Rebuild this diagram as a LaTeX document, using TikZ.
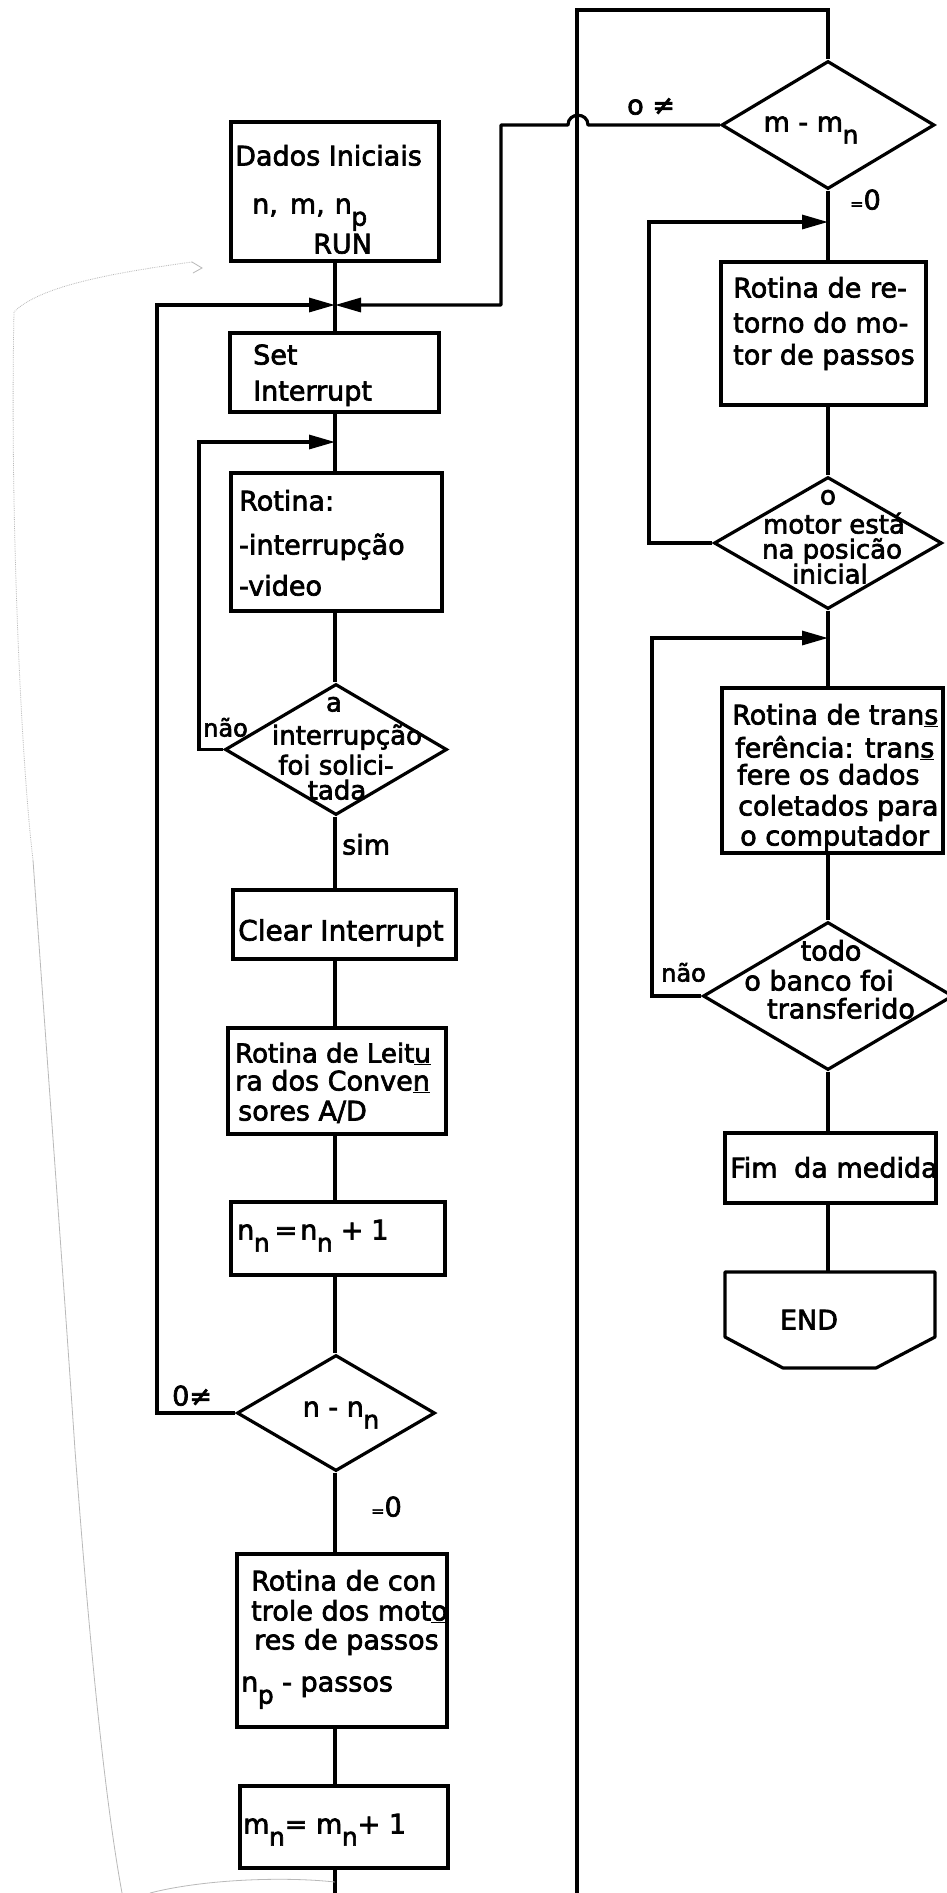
\documentclass[tikz,border=0pt]{standalone}
\usepackage{fontspec}
\setmainfont{DejaVu Sans}[FakeBold=2.5]
\usetikzlibrary{arrows.meta,shapes.geometric}
\newcommand{\lsub}[1]{\kern-0.5pt\raisebox{-0.45em}{\fontsize{25}{25}\selectfont #1}}
\begin{document}
\begin{tikzpicture}[x=1pt,y=-1pt,
  ln/.style={line width=3.2pt},
  arr/.style={line width=3.2pt,-{Triangle[length=26pt,width=14pt]}},
  box/.style={draw,line width=3.2pt,rectangle,inner sep=0pt},
  dia/.style={draw,line width=3.2pt,diamond,inner sep=0pt},
  txt/.style={font=\fontsize{27}{32}\selectfont,inner sep=0pt,anchor=west,text height=20pt,text depth=7pt},
  ctxt/.style={txt,anchor=center},
  pencil/.style={gray!55,line width=0.8pt}]
\useasboundingbox (0,0) rectangle (947,1893);
\fill[white] (0,0) rectangle (947,1893);
\coordinate (cx) at (335,0);
\coordinate (rx) at (828,0);
% ---------- left column ----------
\node[box,minimum width=208pt,minimum height=139pt] (dados) at (335,191.5) {};
\node[box,minimum width=209pt,minimum height=79pt] (setint) at (334.5,372.5) {};
\node[box,minimum width=211pt,minimum height=138pt] (rot1) at (336.5,542) {};
\node[dia,minimum width=222pt,minimum height=131pt] (dec1) at (336,749.5) {};
\node[box,minimum width=223pt,minimum height=69pt] (clear) at (344.5,924.5) {};
\node[box,minimum width=218pt,minimum height=106pt] (leit) at (337,1081) {};
\node[box,minimum width=214pt,minimum height=73pt] (nn) at (338,1238.5) {};
\node[dia,minimum width=198pt,minimum height=116pt] (dec2) at (336,1413) {};
\node[box,minimum width=210pt,minimum height=173pt] (ctrl) at (342,1640.5) {};
\node[box,minimum width=208pt,minimum height=82pt] (mn) at (344,1827) {};
% ---------- right column ----------
\node[dia,minimum width=213pt,minimum height=128pt] (dec3) at (828,125) {};
\node[box,minimum width=205pt,minimum height=143pt] (ret) at (823.5,333.5) {};
\node[dia,minimum width=228pt,minimum height=132pt] (dec4) at (828,543) {};
\node[box,minimum width=221pt,minimum height=165pt] (trf) at (832.5,770.5) {};
\node[dia,minimum width=250pt,minimum height=148pt] (dec5) at (828,996) {};
\node[box,minimum width=211pt,minimum height=70pt] (fim) at (830.5,1168) {};
\coordinate (endtop) at (828,1272);
\draw[ln,line join=round] (725,1272) -- (935,1272) -- (935,1337) -- (876,1368) -- (783,1368) -- (725,1337) -- cycle;
% ---------- texts ----------
\node[txt] (tdados1) at (235,159) {Dados Iniciais};
\node[txt] (tdados2) at (252,207) {n,\hspace{12pt}m,\hspace{10pt}n\lsub{p}};
\node[txt] (tdados3) at (313,247) {RUN};
\node[txt] (tset1) at (253,358) {Set};
\node[txt] (tset2) at (253,394) {Interrupt};
\node[txt] (trot1) at (239,504) {Rotina:};
\node[txt] (trot2) at (239,548) {-interrupção};
\node[txt] (trot3) at (239,589) {-video};
\node[ctxt,font=\fontsize{26}{30}\selectfont] (td11) at (334,705) {a};
\node[ctxt,font=\fontsize{26}{30}\selectfont] (td12) at (347,738) {interrupção};
\node[ctxt,font=\fontsize{26}{30}\selectfont] (td13) at (336,768) {foi solici-};
\node[ctxt,font=\fontsize{26}{30}\selectfont] (td14) at (337,793) {tada};
\node[txt,font=\fontsize{24}{28}\selectfont] (tnao1) at (203,730) {não};
\node[txt] (tsim) at (342,848) {sim};
\node[txt,font=\fontsize{28}{32}\selectfont] (tclear) at (238,934) {Clear Interrupt};
\node[txt,font=\fontsize{26}{30}\selectfont] (tl1) at (235,1056) {Rotina de Leit\underline{u}};
\node[txt] (tl2) at (235,1084) {ra dos Conve\underline{n}};
\node[txt] (tl3) at (238,1114) {sores A/D};
\node[txt] (tnn) at (237,1233) {n\lsub{n}\hspace{5pt}=\hspace{3pt}n\lsub{n}\hspace{8pt}+\hspace{8pt}1};
\node[ctxt] (td2) at (341,1410) {n - n\lsub{n}};
\node[txt] (tne1) at (172,1399) {0≠};
\node[txt] (teq1) at (371,1510) {{\fontsize{16}{16}\selectfont =}0};
\node[txt] (tc1) at (251,1584) {Rotina de con};
\node[txt] (tc2) at (251,1614) {trole dos mot\underline{o}};
\node[txt] (tc3) at (254,1643) {res de passos};
\node[txt] (tc4) at (241,1685) {n\lsub{p} - passos};
\node[txt] (tmn) at (243,1827) {m\lsub{n}= m\lsub{n}+ 1};
\node[txt] (tne2) at (627,108) {o ≠};
\node[ctxt] (td3) at (811,125) {m - m\lsub{n}};
\node[txt] (teq2) at (850,203) {{\fontsize{16}{16}\selectfont =}0};
\node[txt] (tr1) at (733,291) {Rotina de re-};
\node[txt] (tr2) at (733,326) {torno do mo-};
\node[txt] (tr3) at (733,358) {tor de passos};
\node[ctxt,font=\fontsize{26}{30}\selectfont] (td41) at (828,498) {o};
\node[ctxt,font=\fontsize{26}{30}\selectfont] (td42) at (834,527) {motor está};
\node[ctxt,font=\fontsize{26}{30}\selectfont] (td43) at (832,552) {na posicão};
\node[ctxt,font=\fontsize{26}{30}\selectfont] (td44) at (830,577) {inicial};
\node[txt] (tt1) at (732,718) {Rotina de tran\underline{s}};
\node[txt] (tt2) at (735,751) {ferência: tran\underline{s}};
\node[txt] (tt3) at (737,778) {fere os dados};
\node[txt] (tt4) at (738,809) {coletados para};
\node[txt] (tt5) at (740,839) {o computador};
\node[ctxt] (td51) at (831,954) {todo};
\node[ctxt] (td52) at (819,984) {o banco foi};
\node[ctxt] (td53) at (841,1012) {transferido};
\node[txt,font=\fontsize{24}{28}\selectfont] (tnao2) at (661,975) {não};
\node[txt] (tfim) at (730,1171) {Fim\hspace{8pt} da medida};
\node[ctxt] (tend) at (809,1323) {END};
% ---------- connectors left ----------
\coordinate (junc) at (335,305);
\draw[ln] (dados.south -| cx) -- (setint.north -| cx);
\draw[ln] (setint.south -| cx) -- (rot1.north -| cx);
\draw[ln] (rot1.south -| cx) -- (dec1.north -| cx);
\draw[ln] (dec1.south -| cx) -- (clear.north -| cx);
\draw[ln] (clear.south -| cx) -- (leit.north -| cx);
\draw[ln] (leit.south -| cx) -- (nn.north -| cx);
\draw[ln] (nn.south -| cx) -- (dec2.north -| cx);
\draw[ln] (dec2.south -| cx) -- (ctrl.north -| cx);
\draw[ln] (ctrl.south -| cx) -- (mn.north -| cx);
\coordinate (bot1) at (335,1893);
\draw[ln] (mn.south -| cx) -- (bot1);
\coordinate (lcorner) at (157,305);
\draw[arr] (dec2.west) -| (lcorner) -- (junc);
\coordinate (l1c) at (199,442);
\coordinate (l1j) at (335,442);
\draw[arr] (dec1.west) -| (l1c) -- (l1j);
% right side loop back
\coordinate (hopR) at (588,125);
\coordinate (hopL) at (568,125);
\coordinate (rtop) at (501,125);
\coordinate (rcorner) at (501,305);
\draw[arr,line join=round] (dec3.west) -- (hopR) .. controls +(0,-13) and +(0,-13) .. (hopL) -- (rtop) -- (rcorner) -- (junc);
\coordinate (b2) at (577,1893);
\coordinate (t1) at (577,10);
\coordinate (t2) at (828,10);
\draw[ln] (b2) -- (t1) -- (t2) -- (dec3.north);
% ---------- connectors right ----------
\draw[ln] (dec3.south) -- (ret.north -| rx);
\draw[ln] (ret.south -| rx) -- (dec4.north);
\draw[ln] (dec4.south) -- (trf.north -| rx);
\draw[ln] (trf.south -| rx) -- (dec5.north);
\draw[ln] (dec5.south) -- (fim.north -| rx);
\draw[ln] (fim.south -| rx) -- (endtop);
\coordinate (r1c) at (649,222);
\coordinate (r1j) at (828,222);
\draw[arr] (dec4.west) -| (r1c) -- (r1j);
\coordinate (r2c) at (652,638);
\coordinate (r2j) at (828,638);
\draw[arr] (dec5.west) -| (r2c) -- (r2j);
% ---------- pencil marks ----------
\draw[pencil,densely dotted] (192,262) .. controls (120,272) and (40,285) .. (14,312);
\draw[pencil] (192,262) -- (202,268) -- (193,273);
\draw[pencil,densely dotted] (14,312) .. controls (10,500) and (20,750) .. (33,860);
\draw[pencil] (33,860) .. controls (50,1100) and (65,1300) .. (75,1450) .. controls (90,1650) and (105,1800) .. (122,1893);
\draw[pencil] (150,1893) .. controls (200,1880) and (280,1876) .. (335,1882);
\end{tikzpicture}
\end{document}
